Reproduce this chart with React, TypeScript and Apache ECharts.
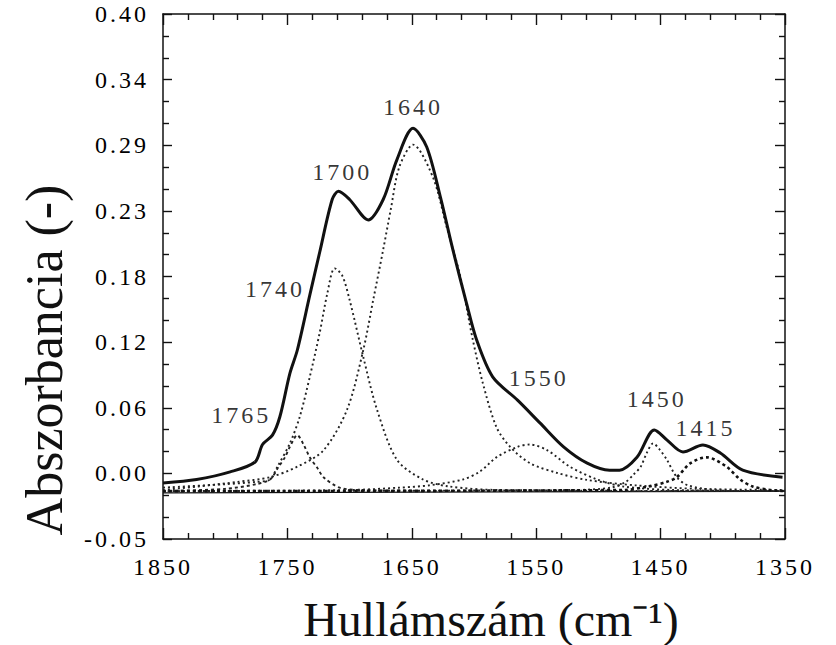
import React, { useEffect, useRef } from "react";
import * as echarts from "echarts";

// ---- axis ticks ----
const xMajorTicks = [1850, 1750, 1650, 1550, 1450, 1350];
const yTickValues = [-0.05, 0.00625, 0.0625, 0.11875, 0.175, 0.23125, 0.2875, 0.34375, 0.4];
const yTickLabels = ["-0.05", "0.00", "0.06", "0.12", "0.18", "0.23", "0.29", "0.34", "0.40"];

// ---- spectra: [wavenumber cm-1, absorbance] ----
const envelope: number[][] = [
  [1850, -0.002], [1823, 0.001], [1796, 0.0075], [1776, 0.016], [1770, 0.031], [1762, 0.039],
  [1756, 0.055], [1748, 0.092], [1742, 0.112], [1732, 0.159], [1724, 0.196], [1714, 0.241],
  [1709, 0.248], [1700, 0.241], [1685, 0.2235], [1673, 0.241], [1662, 0.275], [1649, 0.302],
  [1638, 0.286], [1627, 0.243], [1617, 0.198], [1606, 0.152], [1598, 0.121], [1585, 0.089],
  [1565, 0.069], [1547, 0.0495], [1528, 0.029], [1509, 0.015], [1491, 0.009], [1483, 0.009],
  [1469, 0.02], [1455, 0.0435], [1445, 0.035], [1432, 0.0246], [1416, 0.0306], [1402, 0.0237],
  [1384, 0.009], [1352, 0.003],
];
const band1742: number[][] = [
  [1850, -0.009], [1800, -0.007], [1775, -0.003], [1764, 0.001], [1757, 0.012], [1752, 0.02],
  [1748, 0.029], [1742, 0.039], [1737, 0.031], [1732, 0.02], [1726, 0.011], [1721, 0.003],
  [1708, -0.006], [1690, -0.008], [1600, -0.009], [1350, -0.009],
];
const band1712: number[][] = [
  [1850, -0.006], [1800, -0.003], [1775, -0.001], [1764, 0.001], [1758, 0.012], [1748, 0.032],
  [1740, 0.055], [1732, 0.089], [1724, 0.127], [1718, 0.16], [1712, 0.182], [1706, 0.176],
  [1700, 0.155], [1689, 0.106], [1678, 0.061], [1662, 0.018], [1641, 0.001], [1620, -0.005],
  [1580, -0.008], [1350, -0.009],
];
const band1649: number[][] = [
  [1850, -0.008], [1822, -0.005], [1790, -0.001], [1764, 0.003], [1742, 0.012], [1721, 0.026],
  [1702, 0.061], [1689, 0.112], [1681, 0.155], [1673, 0.198], [1667, 0.232], [1660, 0.269],
  [1649, 0.288], [1633, 0.26], [1622, 0.2175], [1611, 0.175], [1601, 0.121], [1593, 0.084],
  [1582, 0.046], [1571, 0.029], [1555, 0.015], [1533, 0.0066], [1509, 0.0006], [1470, -0.004],
  [1420, -0.007], [1350, -0.008],
];
const band1557: number[][] = [
  [1850, -0.009], [1700, -0.008], [1660, -0.006], [1636, -0.004], [1609, 0.001], [1595, 0.008],
  [1582, 0.02], [1565, 0.029], [1555, 0.031], [1541, 0.026], [1523, 0.012], [1501, 0.001],
  [1480, -0.005], [1440, -0.008], [1350, -0.009],
];
const band1456: number[][] = [
  [1850, -0.009], [1520, -0.008], [1490, -0.006], [1478, -0.001], [1472, 0.005], [1466, 0.012],
  [1461, 0.024], [1456, 0.032], [1451, 0.027], [1445, 0.018], [1437, 0.003], [1428, -0.004],
  [1405, -0.008], [1350, -0.009],
];
const band1413: number[][] = [
  [1850, -0.009], [1480, -0.008], [1460, -0.005], [1445, -0.001], [1437, 0.003], [1426, 0.015],
  [1413, 0.02], [1397, 0.012], [1386, 0.001], [1376, -0.005], [1362, -0.008], [1350, -0.009],
];
const baseline: number[][] = [[1850, -0.0105], [1350, -0.009]];

// ---- peak annotations ----
const peakNames = ["1765", "1740", "1700", "1640", "1550", "1450", "1415"];
const peakX = [1787, 1760, 1706, 1649, 1548, 1453, 1414];
const peakY = [0.056, 0.164, 0.265, 0.32, 0.088, 0.07, 0.045];

const SERIF = "'Liberation Serif', 'Times New Roman', serif";

function buildMinor(majors: number[], parts: number): number[] {
  const sorted = [...majors].sort((a, b) => a - b);
  const out: number[] = [];
  for (let i = 0; i < sorted.length - 1; i++) {
    const step = (sorted[i + 1] - sorted[i]) / parts;
    for (let k = 1; k < parts; k++) out.push(sorted[i] + step * k);
  }
  return out;
}

export default function App() {
  const ref = useRef<HTMLDivElement>(null);
  useEffect(() => {
    if (!ref.current) return;
    const chart = echarts.init(ref.current, null, { renderer: "svg" });
    const xMinor = buildMinor(xMajorTicks, 5);
    const yMinor = buildMinor(yTickValues, 3);
    const axisColor = "#111";
    const xBase = { type: "value", min: 1350, max: 1850, inverse: true, splitLine: { show: false } };
    const yBase = { type: "value", min: -0.05, max: 0.4, splitLine: { show: false } };
    const hiddenLine = { show: false, onZero: false };
    const line = { show: true, onZero: false, lineStyle: { color: axisColor, width: 1.5 } };
    const tick = (vals: number[], len: number) => ({
      show: true, inside: true, length: len, customValues: vals,
      lineStyle: { color: axisColor, width: 1.4 },
    });
    const dotted = (data: number[][], width = 1.9, type: any = [2, 3], color = "#222") => ({
      type: "line", data, smooth: 0.3, symbol: "none", silent: true,
      lineStyle: { color, width, type }, z: 2,
    });
    chart.setOption({
      animation: false,
      backgroundColor: "#ffffff",
      grid: { left: 163, right: 51, top: 14, bottom: 106 },
      xAxis: [
        {
          ...xBase, position: "bottom", axisLine: line, axisTick: tick(xMajorTicks, 11),
          axisLabel: {
            customValues: xMajorTicks, margin: 16, fontSize: 24, fontFamily: SERIF, color: "#000",
            formatter: (v: number) => String(v),
          },
        },
        { ...xBase, position: "bottom", axisLine: hiddenLine, axisTick: tick(xMinor, 6), axisLabel: { show: false } },
        { ...xBase, position: "top", axisLine: line, axisTick: tick(xMajorTicks, 11), axisLabel: { show: false } },
        { ...xBase, position: "top", axisLine: hiddenLine, axisTick: tick(xMinor, 6), axisLabel: { show: false } },
      ],
      yAxis: [
        {
          ...yBase, position: "left", axisLine: line, axisTick: tick(yTickValues, 9),
          axisLabel: {
            customValues: yTickValues, margin: 14, fontSize: 24, fontFamily: SERIF, color: "#000",
            formatter: (v: number) => {
              const i = yTickValues.findIndex((t) => Math.abs(t - v) < 1e-6);
              return i >= 0 ? yTickLabels[i] : "";
            },
          },
        },
        { ...yBase, position: "left", axisLine: hiddenLine, axisTick: tick(yMinor, 6), axisLabel: { show: false } },
        { ...yBase, position: "right", axisLine: line, axisTick: tick(yTickValues, 10), axisLabel: { show: false } },
        { ...yBase, position: "right", axisLine: hiddenLine, axisTick: tick(yMinor, 6), axisLabel: { show: false } },
      ],
      series: [
        { type: "line", data: baseline, symbol: "none", silent: true, lineStyle: { color: "#111", width: 1.3 }, z: 1 },
        dotted(band1742, 1.9, [3, 3]),
        dotted(band1712),
        dotted(band1649),
        dotted(band1557),
        dotted(band1456),
        dotted(band1413, 2.6, [3, 3], "#111"),
        {
          type: "line", data: envelope, smooth: 0.3, symbol: "none", silent: true,
          lineStyle: { color: "#111", width: 3 }, z: 3,
        },
        {
          type: "scatter", symbolSize: 0, silent: true, z: 4,
          data: peakNames.map((n, i) => ({ name: n, value: [peakX[i], peakY[i]] })),
          label: {
            show: true, position: "inside", formatter: (p: any) => p.name,
            fontSize: 24, fontFamily: SERIF, color: "#000",
          },
        },
      ],
      graphic: [
        {
          type: "text", x: 491, y: 619,
          style: {
            text: "Hullámszám (cm⁻¹)", fontSize: 48, fontFamily: SERIF, fill: "#111",
            textAlign: "center", textVerticalAlign: "middle",
          },
        },
        {
          type: "text", x: 44, y: 360, rotation: Math.PI / 2,
          style: {
            text: "Abszorbancia (-)", fontSize: 52, fontFamily: SERIF, fill: "#111",
            textAlign: "center", textVerticalAlign: "middle",
          },
        },
      ],
    });
    return () => chart.dispose();
  }, []);
  return (
    <>
      <style>{`#root svg text[style*="24px"]{letter-spacing:3px;}`}</style>
      <div ref={ref} style={{ position: "fixed", left: 0, top: 0, width: 836, height: 645 }} />
    </>
  );
}
